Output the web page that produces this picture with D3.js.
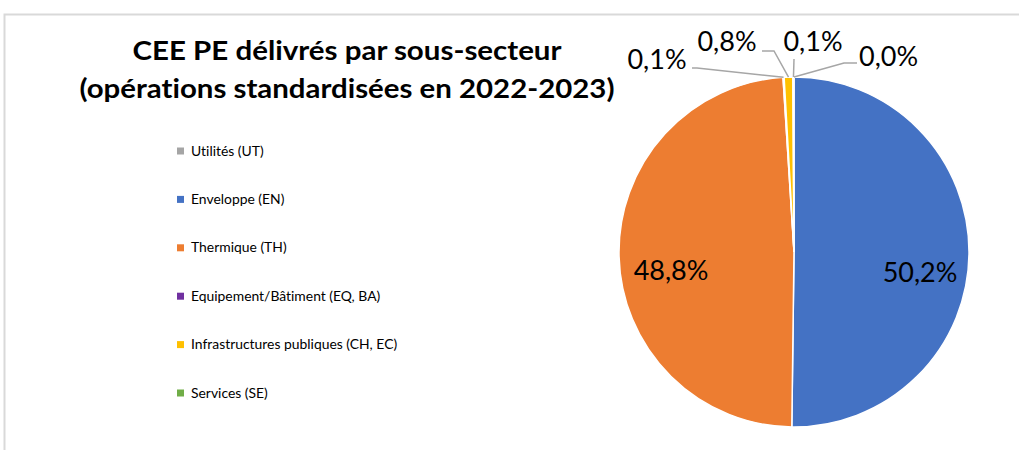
<!DOCTYPE html>
<html><head><meta charset="utf-8">
<script src="https://cdn.jsdelivr.net/npm/d3@7"></script>
<style>body{margin:0;background:#fff}svg{display:block}text{font-variant-ligatures:none;font-feature-settings:"liga" 0,"clig" 0}</style>
</head><body>
<script>
const categories = ["Utilités (UT)","Enveloppe (EN)","Thermique (TH)","Equipement/Bâtiment (EQ, BA)","Infrastructures publiques (CH, EC)","Services (SE)"];
const values = [0.0, 50.2, 48.8, 0.1, 0.8, 0.1];
const valueLabels = ["0,0%","50,2%","48,8%","0,1%","0,8%","0,1%"];
const colors = ["#A5A5A5","#4472C4","#ED7D31","#7030A0","#FFC000","#70AD47"];
const titleLines = ["CEE PE délivrés par sous-secteur","(opérations standardisées en 2022-2023)"];

const W=1019,H=450;
const FONT="Lato, 'Open Sans', sans-serif";
const svg=d3.select("body").append("svg").attr("width",W).attr("height",H);

// frame
svg.append("path").attr("d",`M4.5,${H} L4.5,14.5 L${W},14.5`).attr("fill","none").attr("stroke","#d9d9d9").attr("stroke-width",2);

// title
const titleCfg=[{y:60,len:429},{y:98,len:535}];
svg.selectAll(".title").data(titleLines).join("text")
  .attr("x",347).attr("y",(d,i)=>titleCfg[i].y)
  .attr("text-anchor","middle").attr("font-family",FONT).attr("font-weight","bold")
  .attr("font-size",27).attr("fill","#000")
  .attr("textLength",(d,i)=>titleCfg[i].len).attr("lengthAdjust","spacingAndGlyphs")
  .text(d=>d);

// legend
const ly=d3.scalePoint().domain(categories).range([151,393]);
const lg=svg.append("g");
categories.forEach((c,i)=>{
  lg.append("rect").attr("x",177).attr("y",ly(c)-3.5).attr("width",7).attr("height",7).attr("fill",colors[i]);
  lg.append("text").attr("x",191).attr("y",ly(c)+4.5).attr("font-family",FONT).attr("font-size",13.9).attr("fill","#000").text(c);
});

// pie
const cx=794,cy=252,R=175;
const pie=d3.pie().sort(null).value(d=>d)(values);
const arc=d3.arc().innerRadius(0).outerRadius(R);
const g=svg.append("g").attr("transform",`translate(${cx},${cy})`);
g.selectAll("path").data(pie).join("path").attr("d",arc).attr("fill",(d,i)=>colors[i])
  .attr("stroke","#fff").attr("stroke-width",1.5);

// inside labels for large slices
const inner={1:{x:920,y:282},2:{x:671,y:280}};
// outside labels with leader lines (layout: elbow and text positions)
const outer={
  0:{elbow:[844,63],end:[857,63],tx:859,ty:66,anchor:"start"},
  5:{elbow:[794,59],end:[794,59],tx:813,ty:51,anchor:"middle"},
  4:{elbow:[774,51],end:[762,51],tx:727,ty:51,anchor:"middle"},
  3:{elbow:[697,68],end:[692,68],tx:657,ty:69,anchor:"middle"}
};
pie.forEach((d,i)=>{
  if(inner[i]){
    svg.append("text").attr("x",inner[i].x).attr("y",inner[i].y).attr("text-anchor","middle")
      .attr("font-family",FONT).attr("font-size",27).attr("fill","#000").text(valueLabels[i]);
  } else if(outer[i]){
    const o=outer[i];
    const a=(d.startAngle+d.endAngle)/2;
    const sx=cx+Math.sin(a)*R, sy=cy-Math.cos(a)*R;
    svg.append("polyline").attr("points",[[sx,sy],o.elbow,o.end].map(p=>p.join(",")).join(" "))
      .attr("fill","none").attr("stroke","#A6A6A6").attr("stroke-width",1.5);
    svg.append("text").attr("x",o.tx).attr("y",o.ty).attr("text-anchor",o.anchor)
      .attr("font-family",FONT).attr("font-size",27).attr("fill","#000").text(valueLabels[i]);
  }
});
</script>
</body></html>
